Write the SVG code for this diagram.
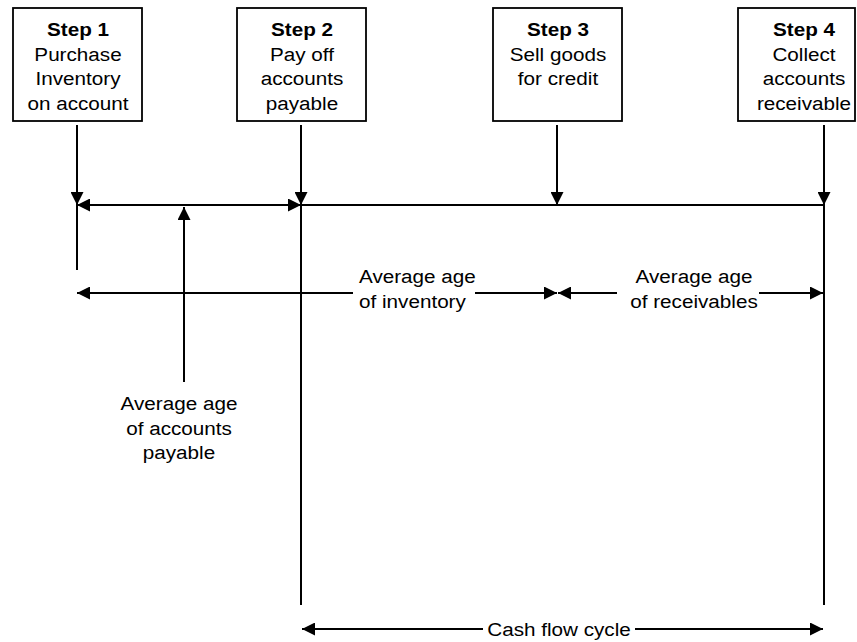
<svg xmlns="http://www.w3.org/2000/svg" width="857" height="642" viewBox="0 0 857 642">
<style>
  .box { fill: #ffffff; stroke: #000000; stroke-width: 1.8; }
  .ln { fill: none; stroke: #000000; stroke-width: 2; }
  .arr { fill: none; stroke: #000000; stroke-width: 2; marker-end: url(#ah); }
  .t { font-family: "Liberation Sans", Arial, Helvetica, sans-serif; font-size: 18.8px; fill: #000000; }
  .c { text-anchor: middle; }
  .b { font-weight: bold; }
</style>
<defs>
  <marker id="ah" markerUnits="userSpaceOnUse" markerWidth="13" markerHeight="13" refX="13" refY="6.5" orient="auto-start-reverse" viewBox="0 0 13 13">
    <path d="M0,0 L13,6.5 L0,13 Z" fill="#000000"/>
  </marker>
</defs>
<rect width="857" height="642" fill="#ffffff"/>

<g id="step1">
  <rect class="box" x="13" y="8" width="129" height="113"/>
  <text class="t c b" transform="translate(78,36) scale(1.1,1)">Step 1</text>
  <text class="t c" transform="translate(78,60.5) scale(1.1,1)">Purchase</text>
  <text class="t c" transform="translate(78,85) scale(1.1,1)">Inventory</text>
  <text class="t c" transform="translate(78,109.5) scale(1.1,1)">on account</text>
</g>
<g id="step2">
  <rect class="box" x="237" y="8" width="129" height="113"/>
  <text class="t c b" transform="translate(302,36) scale(1.1,1)">Step 2</text>
  <text class="t c" transform="translate(302,60.5) scale(1.1,1)">Pay off</text>
  <text class="t c" transform="translate(302,85) scale(1.1,1)">accounts</text>
  <text class="t c" transform="translate(302,109.5) scale(1.1,1)">payable</text>
</g>
<g id="step3">
  <rect class="box" x="493" y="8" width="129" height="113"/>
  <text class="t c b" transform="translate(558,36) scale(1.1,1)">Step 3</text>
  <text class="t c" transform="translate(558,60.5) scale(1.1,1)">Sell goods</text>
  <text class="t c" transform="translate(558,85) scale(1.1,1)">for credit</text>
</g>
<g id="step4">
  <rect class="box" x="738" y="8" width="117" height="113"/>
  <text class="t c b" transform="translate(804,36) scale(1.1,1)">Step 4</text>
  <text class="t c" transform="translate(804,60.5) scale(1.1,1)">Collect</text>
  <text class="t c" transform="translate(804,85) scale(1.1,1)">accounts</text>
  <text class="t c" transform="translate(804,109.5) scale(1.1,1)">receivable</text>
</g>

<g id="connectors">
  <path class="arr" d="M77,125 V205"/>
  <path class="ln" d="M77,205 V270"/>
  <path class="arr" d="M301,125 V205"/>
  <path class="ln" d="M301,205 V605"/>
  <path class="arr" d="M557,125 V205"/>
  <path class="arr" d="M824,125 V205"/>
  <path class="ln" d="M824,205 V605"/>
  <path class="ln" d="M77,205 H301" marker-start="url(#ah)" marker-end="url(#ah)"/>
  <path class="ln" d="M301,205 H824"/>
  <path class="arr" d="M184,382 V207"/>
  <path class="arr" d="M353,293 H77"/>
  <path class="arr" d="M475,293 H557"/>
  <path class="arr" d="M617,293 H558"/>
  <path class="arr" d="M759,293 H823"/>
  <path class="arr" d="M483,629 H302"/>
  <path class="arr" d="M635,629 H823"/>
</g>

<g id="label-inventory">
  <text class="t" transform="translate(359,283) scale(1.1,1)">Average age</text>
  <text class="t" transform="translate(359,308) scale(1.1,1)">of inventory</text>
</g>
<g id="label-receivables">
  <text class="t c" transform="translate(694,283) scale(1.1,1)">Average age</text>
  <text class="t c" transform="translate(694,308) scale(1.1,1)">of receivables</text>
</g>
<g id="label-payable">
  <text class="t c" transform="translate(179,410) scale(1.1,1)">Average age</text>
  <text class="t c" transform="translate(179,434.5) scale(1.1,1)">of accounts</text>
  <text class="t c" transform="translate(179,459) scale(1.1,1)">payable</text>
</g>
<g id="label-cashflow">
  <text class="t c" transform="translate(559,636) scale(1.1,1)">Cash flow cycle</text>
</g>
</svg>
